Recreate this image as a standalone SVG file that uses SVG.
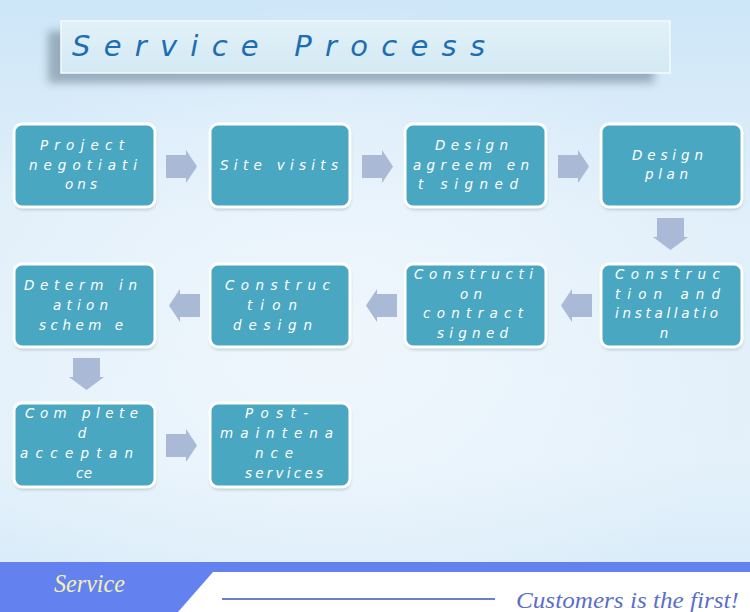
<svg xmlns="http://www.w3.org/2000/svg" width="750" height="612" viewBox="0 0 750 612">
  <defs>
    <linearGradient id="bg" x1="0" y1="0" x2="0" y2="1">
      <stop offset="0" stop-color="#cde6f8"/>
      <stop offset="0.35" stop-color="#e1effa"/>
      <stop offset="0.75" stop-color="#e4f1fb"/>
      <stop offset="1" stop-color="#d5eaf8"/>
    </linearGradient>
    <radialGradient id="glow" cx="0.45" cy="0.55" r="0.55">
      <stop offset="0" stop-color="#f2f8fd" stop-opacity="0.85"/>
      <stop offset="1" stop-color="#f2f8fd" stop-opacity="0"/>
    </radialGradient>
    <linearGradient id="banner" x1="0" y1="0" x2="0" y2="1">
      <stop offset="0" stop-color="#e2f1f8"/>
      <stop offset="1" stop-color="#d3e9f3"/>
    </linearGradient>
    <filter id="blur" x="-10%" y="-50%" width="120%" height="200%">
      <feGaussianBlur stdDeviation="4.5"/>
    </filter>
    <filter id="soft" x="-10%" y="-10%" width="120%" height="130%">
      <feGaussianBlur stdDeviation="1.5"/>
    </filter>
    <style>
      .box { fill: #4aa7c1; stroke: #ffffff; stroke-width: 3; }
      .boxsh { fill: #8fa8b8; opacity: 0.5; }
      .t { font-family: "DejaVu Sans", "Liberation Sans", sans-serif; font-style: italic; font-size: 13.5px; fill: #ffffff; text-anchor: middle; }
      .arrow { fill: #a9b9d6; }
    </style>
  </defs>

  <!-- background -->
  <rect x="0" y="0" width="750" height="612" fill="url(#bg)"/>
  <rect x="0" y="0" width="750" height="612" fill="url(#glow)"/>

  <!-- title banner -->
  <g id="title">
    <rect x="48" y="31" width="606" height="52" fill="#5d7282" opacity="0.5" filter="url(#blur)"/>
    <rect x="61" y="21" width="609" height="52" fill="url(#banner)" stroke="#f4fafd" stroke-width="1.5"/>
    <text x="72" y="56" textLength="413" lengthAdjust="spacing" font-family="DejaVu Sans, Liberation Sans, sans-serif" font-style="italic" font-size="29" fill="#1d6db3">Service Process</text>
  </g>

  <!-- connectors -->
  <g id="connectors">
    <!-- row 1 right arrows -->
    <polygon class="arrow" points="166,155 186,155 186,150 197,166.5 186,183 186,178 166,178"/>
    <polygon class="arrow" points="362,155 382,155 382,150 393,166.5 382,183 382,178 362,178"/>
    <polygon class="arrow" points="558,155 578,155 578,150 589,166.5 578,183 578,178 558,178"/>
    <!-- down arrow 4 -> 5 -->
    <polygon class="arrow" points="657,218 684,218 684,237 688,237 670.5,250 653,237 657,237"/>
    <!-- row 2 left arrows -->
    <polygon class="arrow" points="592,294 572,294 572,289 561,305.5 572,322 572,317 592,317"/>
    <polygon class="arrow" points="397,294 377,294 377,289 366,305.5 377,322 377,317 397,317"/>
    <polygon class="arrow" points="200,294 180,294 180,289 169,305.5 180,322 180,317 200,317"/>
    <!-- down arrow 8 -> 9 -->
    <polygon class="arrow" points="73,358 100,358 100,377 104,377 86.5,390 69,377 73,377"/>
    <!-- row 3 right arrow -->
    <polygon class="arrow" points="166,434 186,434 186,429 197,445.5 186,462 186,457 166,457"/>
  </g>

  <!-- row 1 -->
  <g id="n1">
    <rect class="boxsh" x="14" y="126" width="142" height="84" rx="9" filter="url(#soft)"/>
    <rect class="box" x="14" y="124" width="141" height="83" rx="8"/>
    <text class="t" x="82" y="150" textLength="84" lengthAdjust="spacing">Project</text>
    <text class="t" x="83" y="169.5" textLength="108" lengthAdjust="spacing">negotiati</text>
    <text class="t" x="81" y="189" textLength="32" lengthAdjust="spacing">ons</text>
  </g>
  <g id="n2">
    <rect class="boxsh" x="210" y="126" width="141" height="84" rx="9" filter="url(#soft)"/>
    <rect class="box" x="210" y="124" width="140" height="83" rx="8"/>
    <text class="t" x="279" y="170" textLength="118" lengthAdjust="spacing">Site visits</text>
  </g>
  <g id="n3">
    <rect class="boxsh" x="405" y="126" width="142" height="84" rx="9" filter="url(#soft)"/>
    <rect class="box" x="405" y="124" width="141" height="83" rx="8"/>
    <text class="t" x="471.5" y="150" textLength="73" lengthAdjust="spacing">Design</text>
    <text class="t" x="471" y="169.5" textLength="116" lengthAdjust="spacing">agreem en</text>
    <text class="t" x="468" y="189" textLength="100" lengthAdjust="spacing">t signed</text>
  </g>
  <g id="n4">
    <rect class="boxsh" x="601" y="126" width="142" height="84" rx="9" filter="url(#soft)"/>
    <rect class="box" x="601" y="124" width="141" height="83" rx="8"/>
    <text class="t" x="667.5" y="160" textLength="71" lengthAdjust="spacing">Design</text>
    <text class="t" x="666.5" y="179" textLength="43" lengthAdjust="spacing">plan</text>
  </g>

  <!-- row 2 -->
  <g id="n5">
    <rect class="boxsh" x="601" y="266" width="142" height="84" rx="9" filter="url(#soft)"/>
    <rect class="box" x="601" y="264" width="141" height="83" rx="8"/>
    <text class="t" x="667.5" y="279" textLength="105" lengthAdjust="spacing">Construc</text>
    <text class="t" x="667.5" y="298.5" textLength="105" lengthAdjust="spacing">tion  and</text>
    <text class="t" x="666.5" y="318" textLength="103" lengthAdjust="spacing">installatio</text>
    <text class="t" x="664" y="337.5">n</text>
  </g>
  <g id="n6">
    <rect class="boxsh" x="405" y="266" width="142" height="84" rx="9" filter="url(#soft)"/>
    <rect class="box" x="405" y="264" width="141" height="83" rx="8"/>
    <text class="t" x="473.5" y="279" textLength="119" lengthAdjust="spacing">Constructi</text>
    <text class="t" x="471" y="298.5" textLength="22" lengthAdjust="spacing">on</text>
    <text class="t" x="473" y="318" textLength="100" lengthAdjust="spacing">contract</text>
    <text class="t" x="472.5" y="337.5" textLength="71" lengthAdjust="spacing">signed</text>
  </g>
  <g id="n7">
    <rect class="boxsh" x="210" y="266" width="141" height="84" rx="9" filter="url(#soft)"/>
    <rect class="box" x="210" y="264" width="140" height="83" rx="8"/>
    <text class="t" x="277.5" y="289.5" textLength="105" lengthAdjust="spacing">Construc</text>
    <text class="t" x="272" y="309.5" textLength="50" lengthAdjust="spacing">tion</text>
    <text class="t" x="272.5" y="329.5" textLength="79" lengthAdjust="spacing">design</text>
  </g>
  <g id="n8">
    <rect class="boxsh" x="14" y="266" width="142" height="84" rx="9" filter="url(#soft)"/>
    <rect class="box" x="14" y="264" width="141" height="83" rx="8"/>
    <text class="t" x="80.5" y="289.5" textLength="113" lengthAdjust="spacing">Determ in</text>
    <text class="t" x="80.5" y="309.5" textLength="55" lengthAdjust="spacing">ation</text>
    <text class="t" x="81" y="329.5" textLength="84" lengthAdjust="spacing">schem e</text>
  </g>

  <!-- row 3 -->
  <g id="n9">
    <rect class="boxsh" x="14" y="405" width="142" height="85" rx="9" filter="url(#soft)"/>
    <rect class="box" x="14" y="403" width="141" height="84" rx="8"/>
    <text class="t" x="81.5" y="418" textLength="113" lengthAdjust="spacing">Com plete</text>
    <text class="t" x="82" y="438">d</text>
    <text class="t" x="76.5" y="458" textLength="113" lengthAdjust="spacing">acceptan</text>
    <text class="t" x="84" y="478" textLength="16" lengthAdjust="spacing">ce</text>
  </g>
  <g id="n10">
    <rect class="boxsh" x="210" y="405" width="141" height="85" rx="9" filter="url(#soft)"/>
    <rect class="box" x="210" y="403" width="140" height="84" rx="8"/>
    <text class="t" x="276.5" y="418" textLength="63" lengthAdjust="spacing">Post-</text>
    <text class="t" x="276.5" y="438" textLength="113" lengthAdjust="spacing">maintena</text>
    <text class="t" x="274" y="458" textLength="38" lengthAdjust="spacing">nce</text>
    <text class="t" x="284" y="478" textLength="78" lengthAdjust="spacing">services</text>
  </g>

  <!-- footer -->
  <g id="footer">
    <rect x="0" y="562" width="750" height="50" fill="#6482ef"/>
    <polygon points="213,572 750,572 750,612 178,612" fill="#ffffff"/>
    <line x1="222" y1="599" x2="495" y2="599" stroke="#6b7fcf" stroke-width="2"/>
    <text x="54" y="592" textLength="71" lengthAdjust="spacingAndGlyphs" font-family="Liberation Serif, serif" font-style="italic" font-size="25" fill="#f3f0b2">Service</text>
    <text x="516" y="608" textLength="223" lengthAdjust="spacingAndGlyphs" font-family="Liberation Serif, serif" font-style="italic" font-size="24" fill="#5a6fcb">Customers is the first!</text>
  </g>
</svg>
